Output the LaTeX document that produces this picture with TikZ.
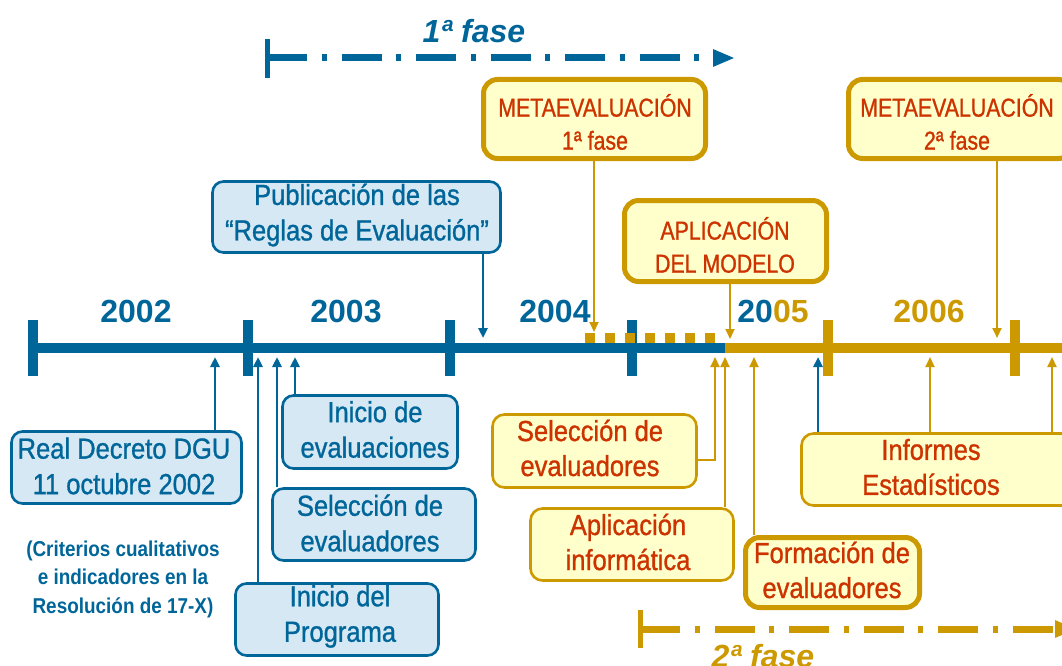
\documentclass[tikz,border=0pt]{standalone}
\usepackage{fontspec}
\setmainfont{Liberation Sans}[FakeStretch=0.88, UprightFeatures={FakeBold=1}]
\newfontfamily\widefont{Liberation Sans}
\newfontfamily\capsfont{Liberation Sans}[FakeStretch=0.82, FakeBold=1]
\usetikzlibrary{arrows.meta}
\definecolor{cblue}{HTML}{006699}
\definecolor{lblue}{HTML}{D5E8F4}
\definecolor{cgold}{HTML}{CC9900}
\definecolor{lyell}{HTML}{FFFFCC}
\definecolor{cred}{HTML}{CC3300}
\begin{document}
\begin{tikzpicture}[x=1pt,y=-1pt,
  bluebox/.style={draw=cblue, line width=2.6pt, fill=lblue, rounded corners=11pt, inner sep=0pt},
  goldbox/.style={draw=cgold, line width=2.6pt, fill=lyell, rounded corners=12pt, inner sep=0pt},
  goldboxthick/.style={goldbox, line width=5pt, rounded corners=14pt},
  bluetxt/.style={text=cblue, align=center, inner sep=0pt, font=\fontsize{29}{35.5}\selectfont},
  redtxt/.style={text=cred, align=center, inner sep=0pt, font=\fontsize{29}{35}\selectfont},
  capstxt/.style={text=cred, align=center, inner sep=0pt, font=\capsfont\fontsize{26}{33}\selectfont},
  yeartxt/.style={anchor=base, inner sep=0pt, font=\widefont\bfseries\fontsize{32}{38}\selectfont},
  phasetxt/.style={anchor=base, inner sep=0pt, font=\widefont\bfseries\itshape\fontsize{32}{38}\selectfont},
  bluearr/.style={draw=cblue, line width=2.6pt, -{Triangle[length=10pt,width=9pt]}},
  goldarr/.style={draw=cgold, line width=2pt, -{Triangle[length=10pt,width=9pt]}},
  phaseline/.style={line width=7pt, dash pattern=on 40pt off 14.5pt on 5pt off 15pt, -{Triangle[length=22pt,width=16pt]}},
]
\useasboundingbox (0,0) rectangle (1062,666);

% ---------- phase arrows ----------
\coordinate (p1s) at (267,58); \coordinate (p1e) at (735,58);
\draw[cblue, line width=5pt] (267,39) -- (267,78);
\draw[cblue, phaseline] (p1s) -- (p1e);
\node[phasetxt, text=cblue] (f1) at (474,43) {1ª fase};

\coordinate (p2s) at (640,629); \coordinate (p2e) at (1077,629);
\draw[cgold, line width=5pt] (640,610) -- (640,648);
\draw[cgold, phaseline] (p2s) -- (p2e);
\node[phasetxt, text=cgold] (f2) at (763,667) {2ª fase};

% ---------- timeline ----------
\coordinate (L0) at (33,348); \coordinate (Lmid) at (725,348); \coordinate (Lend) at (1075,348);
\draw[cblue, line width=10pt] (L0) -- (Lmid);
\draw[cgold, line width=10pt] (Lmid) -- (Lend);
\foreach \x in {33,248,450,632} \draw[cblue, line width=10pt] (\x,320) -- (\x,376);
\foreach \x in {828,1015} \draw[cgold, line width=10pt] (\x,320) -- (\x,376);
\coordinate (d0) at (585,338); \coordinate (d1) at (725,338);
\draw[cgold, line width=10pt, dash pattern=on 10pt off 10pt] (d0) -- (d1);

% ---------- years ----------
\node[yeartxt, text=cblue] (y2002) at (136,322) {2002};
\node[yeartxt, text=cblue] (y2003) at (346,322) {2003};
\node[yeartxt, text=cblue] (y2004) at (555,322) {2004};
\node[yeartxt] (y2005) at (773,322) {\textcolor{cblue}{20}\textcolor{cgold}{05}};
\node[yeartxt, text=cgold] (y2006) at (929,322) {2006};

% ---------- upper boxes ----------
\node[bluebox, minimum width=288pt, minimum height=71pt] (pub) at (356.5,217) {};
\node[bluetxt] (pubT) at (357,215) {Publicación de las\\“Reglas de Evaluación”};

\node[goldboxthick, minimum width=222pt, minimum height=79pt] (meta1) at (594.5,119) {};
\node[capstxt] (meta1T) at (595,122) {METAEVALUACIÓN\\1ª fase};

\node[goldboxthick, minimum width=224pt, minimum height=79pt] (meta2) at (960.5,119) {};
\node[capstxt] (meta2T) at (957,122) {METAEVALUACIÓN\\2ª fase};

\node[goldboxthick, minimum width=202pt, minimum height=81pt] (aplmod) at (725.5,241) {};
\node[capstxt] (aplmodT) at (725,245) {APLICACIÓN\\DEL MODELO};

% ---------- lower blue boxes ----------
\node[bluebox, minimum width=230pt, minimum height=72pt] (realdec) at (126.5,467.5) {};
\node[bluetxt] (realdecT) at (124,466) {Real Decreto DGU\\11 octubre 2002};

\node[bluebox, minimum width=175pt, minimum height=73pt] (inicioev) at (370,432) {};
\node[bluetxt] (inicioevT) at (375,429.5) {Inicio de\\evaluaciones};

\node[bluebox, minimum width=203pt, minimum height=72pt] (selb) at (374,524.5) {};
\node[bluetxt] (selbT) at (370,523) {Selección de\\evaluadores};

\node[bluebox, minimum width=203pt, minimum height=72pt] (inprog) at (337,619.5) {};
\node[bluetxt] (inprogT) at (340,616.5) {Inicio del\\Programa};

\node[text=cblue, align=center, inner sep=0pt, font=\bfseries\fontsize{21.5}{28.5}\selectfont] (crit) at (123,579) {(Criterios cualitativos\\e indicadores en la\\Resolución de 17-X)};

% ---------- lower gold boxes ----------
\node[goldbox, minimum width=204pt, minimum height=73pt] (selg) at (594.5,451) {};
\node[redtxt] (selgT) at (590,448) {Selección de\\evaluadores};

\node[goldbox, minimum width=203pt, minimum height=72pt] (aplinf) at (632,544.5) {};
\node[redtxt] (aplinfT) at (628,542) {Aplicación\\informática};

\node[goldboxthick, minimum width=174pt, minimum height=70pt] (form) at (832.5,572.5) {};
\node[redtxt] (formT) at (832,570) {Formación de\\evaluadores};

\node[goldbox, minimum width=272pt, minimum height=72pt] (inform) at (937.5,469.5) {};
\node[redtxt] (informT) at (931,467) {Informes\\Estadísticos};

% ---------- connectors ----------
\coordinate (tPub) at (483,338);
\coordinate (tMeta1) at (594,332);
\coordinate (tMeta2) at (997,338);
\coordinate (tApl) at (730,339);
\coordinate (tReal) at (215,357);
\coordinate (tIniEv) at (295,357);
\coordinate (tSelB) at (277,357);
\coordinate (tInProg) at (258,357);
\coordinate (tSelG) at (715,357);
\coordinate (kSelG) at (715,460);
\coordinate (tAplInf) at (725,357);
\coordinate (tForm) at (754,357);
\coordinate (tInfB) at (818,357);
\coordinate (tInfA) at (930,357);
\coordinate (tInfC) at (1052,357);

\draw[bluearr] (pub.south -| tPub) -- (tPub);
\draw[goldarr] (meta1.south -| tMeta1) -- (tMeta1);
\draw[goldarr] (meta2.south -| tMeta2) -- (tMeta2);
\draw[goldarr] (aplmod.south -| tApl) -- (tApl);

\draw[bluearr] (realdec.north -| tReal) -- (tReal);
\draw[bluearr] (inicioev.north -| tIniEv) -- (tIniEv);
\draw[bluearr] (selb.north -| tSelB) -- (tSelB);
\draw[bluearr] (inprog.north -| tInProg) -- (tInProg);

\draw[goldarr] (selg.east |- kSelG) -- (kSelG) -- (tSelG);
\draw[goldarr] (aplinf.north -| tAplInf) -- (tAplInf);
\draw[goldarr] (form.north -| tForm) -- (tForm);
\draw[bluearr] (inform.north -| tInfB) -- (tInfB);
\draw[goldarr] (inform.north -| tInfA) -- (tInfA);
\draw[goldarr] (inform.north -| tInfC) -- (tInfC);
\end{tikzpicture}
\end{document}
